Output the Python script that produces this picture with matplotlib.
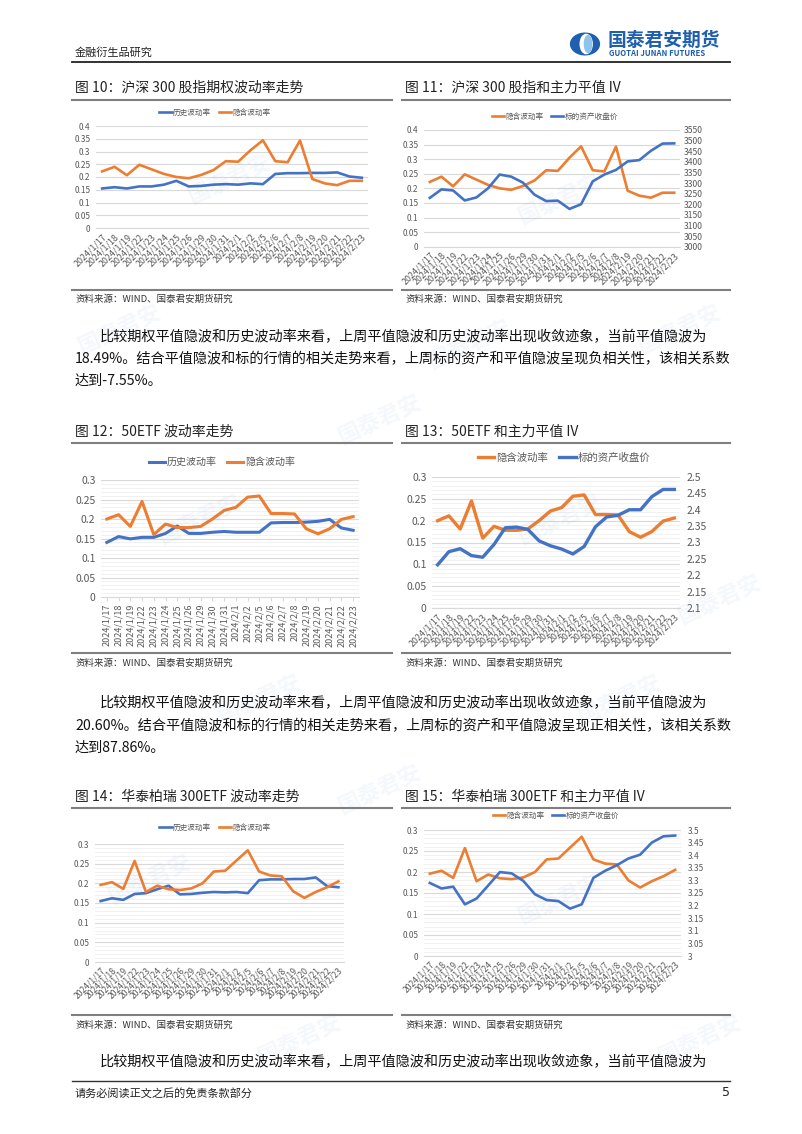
import matplotlib
matplotlib.use("Agg")
import matplotlib.pyplot as plt
from matplotlib.lines import Line2D
from matplotlib.patches import Ellipse
import numpy as np

plt.rcParams['font.family'] = ['Noto Sans CJK SC', 'DejaVu Sans']

W, H = 802, 1134

dates = ["2024/1/17", "2024/1/18", "2024/1/19", "2024/1/22", "2024/1/23", "2024/1/24",
         "2024/1/25", "2024/1/26", "2024/1/29", "2024/1/30", "2024/1/31", "2024/2/1",
         "2024/2/2", "2024/2/5", "2024/2/6", "2024/2/7", "2024/2/8", "2024/2/19",
         "2024/2/20", "2024/2/21", "2024/2/22", "2024/2/23"]

# 沪深300股指期权
hs300_hv = [0.155, 0.160, 0.155, 0.163, 0.163, 0.170, 0.185, 0.163, 0.165, 0.170, 0.172,
            0.170, 0.175, 0.172, 0.212, 0.215, 0.215, 0.216, 0.216, 0.218, 0.202, 0.197]
hs300_iv = [0.222, 0.240, 0.207, 0.248, 0.230, 0.212, 0.200, 0.195, 0.208, 0.227, 0.262,
            0.260, 0.305, 0.344, 0.262, 0.258, 0.343, 0.192, 0.175, 0.168, 0.185, 0.185]
hs300_px = [3230, 3270, 3265, 3218, 3232, 3275, 3340, 3330, 3302, 3245, 3215,
            3217, 3178, 3200, 3308, 3340, 3362, 3402, 3408, 3452, 3486, 3487]

# 50ETF
e50_hv = [0.140, 0.155, 0.149, 0.153, 0.153, 0.163, 0.182, 0.163, 0.163, 0.166, 0.168,
          0.166, 0.166, 0.166, 0.190, 0.191, 0.191, 0.192, 0.194, 0.199, 0.177, 0.171]
e50_iv = [0.200, 0.211, 0.181, 0.245, 0.160, 0.187, 0.178, 0.178, 0.181, 0.200, 0.222,
          0.230, 0.256, 0.259, 0.214, 0.214, 0.213, 0.175, 0.162, 0.175, 0.199, 0.206]
e50_px = [2.232, 2.272, 2.281, 2.260, 2.255, 2.294, 2.345, 2.347, 2.340, 2.305, 2.290,
          2.280, 2.265, 2.288, 2.348, 2.378, 2.383, 2.400, 2.400, 2.440, 2.462, 2.462]

# 华泰柏瑞300ETF
ht_hv = [0.155, 0.162, 0.158, 0.173, 0.175, 0.185, 0.194, 0.172, 0.173, 0.176, 0.178,
         0.177, 0.178, 0.175, 0.208, 0.210, 0.210, 0.211, 0.211, 0.215, 0.193, 0.190]
ht_iv = [0.196, 0.203, 0.186, 0.257, 0.178, 0.194, 0.185, 0.183, 0.187, 0.200, 0.230,
         0.232, 0.258, 0.284, 0.230, 0.220, 0.218, 0.180, 0.163, 0.178, 0.190, 0.205]
ht_px = [3.290, 3.268, 3.275, 3.205, 3.228, 3.280, 3.333, 3.328, 3.298, 3.245, 3.222,
         3.218, 3.188, 3.205, 3.310, 3.338, 3.360, 3.387, 3.402, 3.450, 3.475, 3.478]

BLUE = "#4472C4"
ORANGE = "#ED7D31"
TICK = "#595959"
GRID = "#D9D9D9"

fig = plt.figure(figsize=(W / 100, H / 100), dpi=100)
fig.patch.set_facecolor("white")


def fx(x):
    return x / W


def fy(y):
    return 1 - y / H


def text(x, y, s, size, **kw):
    fig.text(fx(x), fy(y), s, fontsize=size, va="center", **kw)


def hline(x0, x1, y, color="#7F7F7F", lw=1.5):
    fig.add_artist(Line2D([fx(x0), fx(x1)], [fy(y), fy(y)], color=color, lw=lw,
                          transform=fig.transFigure))


# watermarks
for (wx, wy) in [(230, 180), (560, 200), (120, 330), (470, 345), (680, 330),
                 (200, 520), (560, 520), (720, 600), (260, 700), (620, 700),
                 (150, 880), (560, 900), (300, 1040), (700, 1040), (380, 420), (380, 790)]:
    fig.text(fx(wx), fy(wy), "国泰君安", fontsize=16, color="#3B7DC4", alpha=0.06,
             rotation=25, ha="center", va="center", fontweight="bold", zorder=0)

# header
text(75, 52, "金融衍生品研究", 8, color="#222222")
hline(72, 730, 62, color="#222222", lw=1.3)
# logo
lg = fig.add_axes([fx(566), fy(56), fx(604) - fx(566), (56 - 32) / H])
lg.set_xlim(-1.3, 1.3)
lg.set_ylim(-1, 1)
lg.set_aspect("equal")
lg.axis("off")
lg.add_patch(Ellipse((0, 0), 2.4, 1.8, color="#1F5FAE"))
lg.add_patch(Ellipse((0.1, 0), 1.0, 1.6, color="white"))
lg.add_patch(Ellipse((0.25, 0), 0.6, 1.4, color="#8EC3EA"))
text(608, 40, "国泰君安期货", 13.5, color="#1F5FAE", fontweight="bold")
text(609, 54, "GUOTAI JUNAN FUTURES", 5.6, color="#1F5FAE", fontweight="bold")


def make_ax(x0, x1, yt, yb):
    ax = fig.add_axes([fx(x0), fy(yb), fx(x1) - fx(x0), (yb - yt) / H])
    ax.set_facecolor("none")
    for s in ["top", "right", "left"]:
        ax.spines[s].set_visible(False)
    ax.spines["bottom"].set_color(GRID)
    ax.spines["bottom"].set_linewidth(0.8)
    ax.set_xlim(-0.5, len(dates) - 0.5)
    return ax


def style(ax, ymax, step, fs, rot, minor=False, xfs=None):
    ax.set_ylim(0, ymax)
    ticks = np.arange(0, ymax + 1e-9, step)
    ax.set_yticks(ticks)
    ax.set_yticklabels([("%g" % t) for t in ticks])
    ax.tick_params(axis="y", length=0, labelsize=fs, labelcolor=TICK, pad=4)
    ax.grid(axis="y", color=GRID, lw=0.8, zorder=0)
    if minor:
        ax.set_yticks(np.arange(0, ymax + 1e-9, 0.01), minor=True)
        ax.tick_params(axis="y", which="minor", length=0)
        ax.grid(axis="y", which="minor", color="#EFEFEF", lw=0.6, zorder=0)
    ax.set_xticks(range(len(dates)))
    if rot == 90:
        ax.set_xticklabels(dates, rotation=90, ha="center", va="top")
        ax.tick_params(axis="x", length=3, color=GRID, labelsize=xfs or fs,
                       labelcolor=TICK, pad=2)
    else:
        ax.set_xticklabels(dates, rotation=45, ha="right", va="top",
                           rotation_mode="anchor")
        ax.tick_params(axis="x", length=0, labelsize=xfs or fs, labelcolor=TICK, pad=3)
    ax.set_axisbelow(True)


def legend(ax, handles, labels, x, y, fs):
    ax.legend(handles, labels, loc="center", bbox_to_anchor=(fx(x), fy(y)),
              bbox_transform=fig.transFigure, ncol=2, frameon=False, fontsize=fs,
              handlelength=1.6, handletextpad=0.2, columnspacing=1.0, labelcolor=TICK)


x = np.arange(len(dates))
LW = 1.9

# ---------- Row 1 ----------
text(75, 88, "图 10：沪深 300 股指期权波动率走势", 10, color="#222222")
text(405, 88, "图 11：沪深 300 股指和主力平值 IV", 10, color="#222222")
hline(72, 392, 100)
hline(402, 730, 100)
hline(72, 392, 290)
hline(402, 730, 290)
text(75, 299, "资料来源：WIND、国泰君安期货研究", 6.8, color="#333333")
text(405, 299, "资料来源：WIND、国泰君安期货研究", 6.8, color="#333333")

ax = make_ax(96, 368, 126, 228)
l1, = ax.plot(x, hs300_hv, color=BLUE, lw=LW, zorder=3)
l2, = ax.plot(x, hs300_iv, color=ORANGE, lw=LW, zorder=3)
style(ax, 0.4, 0.05, 6, 45, xfs=6.4)
legend(ax, [l1, l2], ["历史波动率", "隐含波动率"], 215, 113, 5.5)

ax = make_ax(424, 680, 130, 246.7)
style(ax, 0.4, 0.05, 6, 45, xfs=6.4)
ax2 = ax.twinx()
for s in ["top", "right", "left", "bottom"]:
    ax2.spines[s].set_visible(False)
l2, = ax.plot(x, hs300_iv, color=ORANGE, lw=LW, zorder=3)
l3, = ax2.plot(x, hs300_px, color=BLUE, lw=LW, zorder=3)
ax2.set_ylim(3000, 3550)
ax2.set_yticks(np.arange(3000, 3551, 50))
ax2.tick_params(axis="y", length=0, labelsize=6.2, labelcolor=TICK, pad=3)
legend(ax, [l2, l3], ["隐含波动率", "标的资产收盘价"], 555, 117, 5.5)

# paragraph 1
text(100, 337, "比较期权平值隐波和历史波动率来看，上周平值隐波和历史波动率出现收敛迹象，当前平值隐波为", 10.2, color="#111111")
text(75, 359, "18.49%。结合平值隐波和标的行情的相关走势来看，上周标的资产和平值隐波呈现负相关性，该相关系数", 10.2, color="#111111")
text(75, 381, "达到-7.55%。", 10.2, color="#111111")

# ---------- Row 2 ----------
text(75, 432, "图 12：50ETF 波动率走势", 10, color="#222222")
text(405, 432, "图 13：50ETF 和主力平值 IV", 10, color="#222222")
hline(72, 392, 443)
hline(402, 730, 443)
hline(72, 392, 653)
hline(402, 730, 653)
text(75, 663, "资料来源：WIND、国泰君安期货研究", 6.8, color="#333333")
text(405, 663, "资料来源：WIND、国泰君安期货研究", 6.8, color="#333333")

ax = make_ax(101, 359, 480, 597)
l1, = ax.plot(x, e50_hv, color=BLUE, lw=2.2, zorder=3)
l2, = ax.plot(x, e50_iv, color=ORANGE, lw=2.2, zorder=3)
style(ax, 0.3, 0.05, 7.5, 90, minor=True, xfs=6.5)
legend(ax, [l1, l2], ["历史波动率", "隐含波动率"], 222, 462, 7.2)

ax = make_ax(432, 680, 477, 608)
style(ax, 0.3, 0.05, 7.5, 45, minor=True, xfs=6.4)
ax2 = ax.twinx()
for s in ["top", "right", "left", "bottom"]:
    ax2.spines[s].set_visible(False)
l2, = ax.plot(x, e50_iv, color=ORANGE, lw=2.4, zorder=3)
l3, = ax2.plot(x, e50_px, color=BLUE, lw=2.4, zorder=3)
ax2.set_ylim(2.1, 2.5)
rt2 = np.round(np.arange(2.1, 2.5001, 0.05), 2)
ax2.set_yticks(rt2)
ax2.set_yticklabels(["%g" % v for v in rt2])
ax2.tick_params(axis="y", length=0, labelsize=7.5, labelcolor=TICK, pad=5)
legend(ax, [l2, l3], ["隐含波动率", "标的资产收盘价"], 564, 458, 7.5)

# paragraph 2
text(100, 703, "比较期权平值隐波和历史波动率来看，上周平值隐波和历史波动率出现收敛迹象，当前平值隐波为", 10.2, color="#111111")
text(75, 726, "20.60%。结合平值隐波和标的行情的相关走势来看，上周标的资产和平值隐波呈现正相关性，该相关系数", 10.2, color="#111111")
text(75, 748, "达到87.86%。", 10.2, color="#111111")

# ---------- Row 3 ----------
text(75, 797, "图 14：华泰柏瑞 300ETF 波动率走势", 10, color="#222222")
text(405, 797, "图 15：华泰柏瑞 300ETF 和主力平值 IV", 10, color="#222222")
hline(72, 392, 808)
hline(402, 730, 808)
hline(72, 392, 1015)
hline(402, 730, 1015)
text(75, 1025, "资料来源：WIND、国泰君安期货研究", 6.8, color="#333333")
text(405, 1025, "资料来源：WIND、国泰君安期货研究", 6.8, color="#333333")

ax = make_ax(95, 344, 844, 962)
l1, = ax.plot(x, ht_hv, color=BLUE, lw=LW, zorder=3)
l2, = ax.plot(x, ht_iv, color=ORANGE, lw=LW, zorder=3)
style(ax, 0.3, 0.05, 6, 45, minor=True, xfs=6.2)
legend(ax, [l1, l2], ["历史波动率", "隐含波动率"], 215, 828, 5.5)

ax = make_ax(424, 681, 830, 956)
style(ax, 0.3, 0.05, 6, 45, minor=True, xfs=6.2)
ax2 = ax.twinx()
for s in ["top", "right", "left", "bottom"]:
    ax2.spines[s].set_visible(False)
l2, = ax.plot(x, ht_iv, color=ORANGE, lw=LW, zorder=3)
l3, = ax2.plot(x, ht_px, color=BLUE, lw=LW, zorder=3)
ax2.set_ylim(3.0, 3.5)
rt = np.round(np.arange(3.0, 3.5001, 0.05), 2)
ax2.set_yticks(rt)
ax2.set_yticklabels(["%g" % v for v in rt])
ax2.tick_params(axis="y", length=0, labelsize=6, labelcolor=TICK, pad=5)
legend(ax, [l2, l3], ["隐含波动率", "标的资产收盘价"], 556, 816, 5.5)

# paragraph 3
text(100, 1062, "比较期权平值隐波和历史波动率来看，上周平值隐波和历史波动率出现收敛迹象，当前平值隐波为", 10.2, color="#111111")

# footer
hline(72, 730, 1081, color="#333333", lw=1.0)
text(75, 1093, "请务必阅读正文之后的免责条款部分", 8, color="#222222")
text(722, 1093, "5", 9, color="#222222", family=["DejaVu Sans"])

fig.savefig("out.png", dpi=100)
